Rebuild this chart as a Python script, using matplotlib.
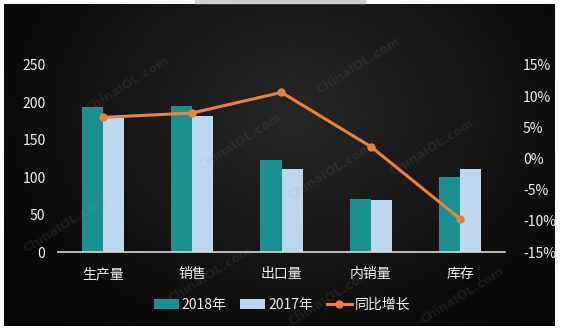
import numpy as np
import matplotlib.pyplot as plt
from matplotlib.patches import Rectangle

plt.rcParams['font.family'] = ['Noto Sans CJK SC', 'DejaVu Sans']

categories = ['生产量', '销售', '出口量', '内销量', '库存']
values_2018 = [193.5, 195.5, 123.0, 71.5, 100.5]
values_2017 = [178.5, 182.0, 111.0, 69.5, 111.0]
growth_pct = [6.6, 7.3, 10.6, 1.9, -9.7]
left_ticks = [0, 50, 100, 150, 200, 250]
right_ticks = [-15, -10, -5, 0, 5, 10, 15]

teal = '#1a9090'
light_blue = '#bdd7ee'
orange = '#e8833f'
text_col = '#f2f2f2'

W, H = 562, 332
fig = plt.figure(figsize=(W / 100, H / 100), dpi=100)
fig.patch.set_facecolor('white')

# dark backdrop with a soft lighter centre
bg = fig.add_axes([4 / W, 6 / H, 551 / W, 322 / H])
yy, xx = np.mgrid[0:322, 0:551]
r = np.sqrt(((xx - 290) / 330.0) ** 2 + ((yy - 110) / 260.0) ** 2)
shade = np.clip(0.15 - 0.12 * r, 0.02, 0.15)
bg.imshow(np.dstack([shade, shade, shade]), aspect='auto', interpolation='bilinear')
bg.set_axis_off()
fig.patches.append(Rectangle((195 / W, 329 / H), 170 / W, 3 / H,
                             transform=fig.transFigure, color='#cfcfcf'))

ax = fig.add_axes([58 / W, 80 / H, 447 / W, 187 / H])
ax.patch.set_alpha(0)
x = np.arange(len(categories))
bw = 0.235
b1 = ax.bar(x - bw / 2, values_2018, bw, color=teal, label='2018年', zorder=2)
b2 = ax.bar(x + bw / 2, values_2017, bw, color=light_blue, label='2017年', zorder=2)
ax.set_xlim(-0.5, len(categories) - 0.5)
ax.set_ylim(0, 250)
ax.set_yticks(left_ticks)
ax.set_xticks(x, categories)
for s in ['top', 'right', 'left']:
    ax.spines[s].set_visible(False)
ax.spines['bottom'].set_color('#d9d9d9')
ax.spines['bottom'].set_linewidth(1.2)
ax.tick_params(axis='y', length=0, pad=9, labelsize=10, labelcolor=text_col)
ax.tick_params(axis='x', length=0, pad=11, labelsize=10, labelcolor=text_col)

ax2 = ax.twinx()
ax2.patch.set_alpha(0)
ln, = ax2.plot(x, growth_pct, color=orange, lw=2.2, marker='o', ms=5,
               label='同比增长', zorder=3)
ax2.set_ylim(-15, 15)
ax2.set_yticks(right_ticks, [f'{t}%' for t in right_ticks])
for s in ax2.spines.values():
    s.set_visible(False)
ax2.tick_params(axis='y', length=0, pad=13, labelsize=10, labelcolor=text_col)

leg = fig.legend([b1, b2, ln], ['2018年', '2017年', '同比增长'], loc='center',
                 bbox_to_anchor=(282 / W, 27 / H), ncol=3, frameon=False,
                 fontsize=10, handlelength=1.8, handleheight=0.8,
                 columnspacing=1.0, handletextpad=0.2)
for t in leg.get_texts():
    t.set_color(text_col)

# faint site watermarks
marks = [(127, 85), (358, 66), (432, 148), (65, 225), (240, 142),
         (330, 172), (210, 275), (330, 298), (462, 296)]
for mx, my in marks:
    fig.text(mx / W, 1 - my / H, 'ChinaIOL.com', rotation=32, ha='center',
             va='center', fontsize=9, fontweight='bold', color='#9a9a9a',
             alpha=0.11, family='DejaVu Sans', zorder=10)

fig.savefig('out.png', dpi=100, facecolor=fig.get_facecolor())
